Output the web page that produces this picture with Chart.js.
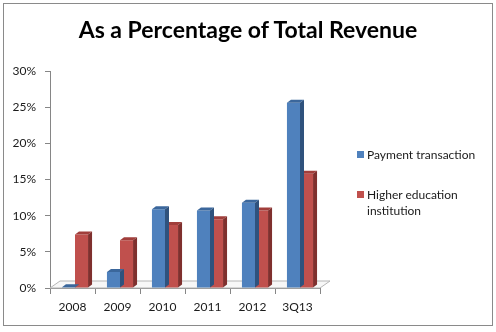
<!DOCTYPE html>
<html>
<head>
<meta charset="utf-8">
<script src="https://cdn.jsdelivr.net/npm/chart.js@4.4.1/dist/chart.umd.min.js"></script>
<style>
  body { margin: 0; background: #fff; font-family: Lato, sans-serif; }
  #wrap { position: relative; width: 496px; height: 332px; }
  #frame { position: absolute; left: 3px; top: 3px; width: 488px; height: 321px; border: 1px solid #8a8a8a; }
  canvas { position: absolute; left: 0; top: 0; }
  #title { position: absolute; left: 0; top: 15px; width: 496px; text-align: center; font: bold 23px Lato, sans-serif; line-height: 28px; color: #000; }
  #legend { position: absolute; left: 357px; top: 147px; width: 125px; font-size: 12px; color: #1a1a1a; }
  .item { position: relative; padding-left: 10px; line-height: 16px; margin-bottom: 24px; }
  .box { position: absolute; left: 0; top: 4px; width: 7px; height: 7px; }
</style>
</head>
<body>
<div id="wrap">
  <div id="frame"></div>
  <canvas id="chart" width="496" height="332"></canvas>
  <div id="title">As a Percentage of Total Revenue</div>
  <div id="legend"></div>
</div>
<script>
const periods = ['2008', '2009', '2010', '2011', '2012', '3Q13'];
const paymentTransaction = [0.1, 2.2, 10.9, 10.7, 11.8, 25.6];
const higherEducation = [7.4, 6.6, 8.7, 9.5, 10.7, 15.8];
const yTicks = [0, 5, 10, 15, 20, 25, 30];

// Excel-like colours: front, top, side
const blueFaces = ['#4f81bd', '#3b679c', '#2f527d'];
const redFaces = ['#c0504d', '#a13e3b', '#7f302e'];
const depthX = 4, depthY = 3;
const shiftX = 2.5; // bars sit a little right of the category centre in the 3d view

function shade(ctx, pts, color) {
  ctx.beginPath();
  ctx.moveTo(pts[0][0], pts[0][1]);
  for (let i = 1; i < pts.length; i++) ctx.lineTo(pts[i][0], pts[i][1]);
  ctx.closePath();
  ctx.fillStyle = color;
  ctx.fill();
}

// Fake 3D: floor under the bars and top/side faces on each bar
const fake3d = {
  id: 'fake3d',
  beforeDatasetsDraw(chart) {
    const { ctx, chartArea } = chart;
    const y0 = chart.scales.y.getPixelForValue(0);
    ctx.save();
    ctx.beginPath();
    ctx.moveTo(chartArea.left, y0);
    ctx.lineTo(chartArea.left + 10, y0 - 7);
    ctx.lineTo(chartArea.right + 10, y0 - 7);
    ctx.lineTo(chartArea.right, y0);
    ctx.closePath();
    ctx.fillStyle = '#f7f7f7';
    ctx.fill();
    ctx.strokeStyle = '#b5b5b5';
    ctx.lineWidth = 1;
    ctx.stroke();
    ctx.restore();
  },
  beforeDatasetDraw(chart) {
    chart.ctx.save();
    chart.ctx.translate(shiftX, 0);
  },
  afterDatasetDraw(chart, args) {
    const { ctx } = chart;
    const faces = args.index === 0 ? blueFaces : redFaces;
    chart.getDatasetMeta(args.index).data.forEach(bar => {
      const p = bar.getProps(['x', 'y', 'base', 'width'], true);
      const x0 = p.x - p.width / 2, x1 = p.x + p.width / 2;
      shade(ctx, [[x0, p.y], [x1, p.y], [x1 + depthX, p.y - depthY], [x0 + depthX, p.y - depthY]], faces[1]);
      shade(ctx, [[x1, p.y], [x1 + depthX, p.y - depthY], [x1 + depthX, p.base - depthY], [x1, p.base]], faces[2]);
    });
    ctx.restore();
  }
};

const chart = new Chart(document.getElementById('chart'), {
  type: 'bar',
  data: {
    labels: periods,
    datasets: [
      { label: 'Payment transaction', data: paymentTransaction, backgroundColor: blueFaces[0] },
      { label: 'Higher education institution', data: higherEducation, backgroundColor: redFaces[0] }
    ]
  },
  options: {
    responsive: false,
    animation: false,
    layout: { padding: { left: 0, right: 176, top: 71, bottom: 0 } },
    datasets: { bar: { categoryPercentage: 0.58, barPercentage: 1, borderWidth: 0 } },
    plugins: {
      legend: { display: false },
      tooltip: { enabled: false }
    },
    scales: {
      x: {
        grid: { drawOnChartArea: false, tickLength: 6, color: '#868686' },
        border: { color: '#868686' },
        ticks: { color: '#1a1a1a', font: { family: 'Lato', size: 12 }, padding: 6 },
        afterFit(scale) { scale.height = 44; }
      },
      y: {
        min: 0,
        max: 30,
        afterBuildTicks(scale) { scale.ticks = yTicks.map(v => ({ value: v })); },
        grid: { drawOnChartArea: false, tickLength: 5, color: '#868686' },
        border: { color: '#868686' },
        ticks: { color: '#1a1a1a', font: { family: 'Lato', size: 12 }, padding: 9, callback: v => v + '%' },
        afterFit(scale) { scale.width = 50; }
      }
    }
  },
  plugins: [fake3d]
});

// legend as html so the long label wraps like the original
const legend = document.getElementById('legend');
chart.data.datasets.forEach(ds => {
  const item = document.createElement('div');
  item.className = 'item';
  item.innerHTML = `<span class="box" style="background:${ds.backgroundColor}"></span>${ds.label}`;
  legend.appendChild(item);
});
</script>
</body>
</html>
